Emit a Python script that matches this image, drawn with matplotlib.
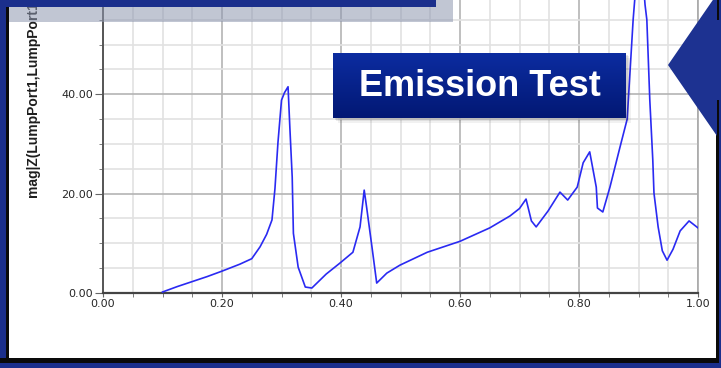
import matplotlib
matplotlib.use('Agg')
import matplotlib.pyplot as plt
import numpy as np
from matplotlib.patches import Rectangle, Polygon
from matplotlib.ticker import MultipleLocator, FormatStrFormatter

# ---- data ----
freq = [0.100, 0.125, 0.150, 0.175, 0.200, 0.230, 0.250, 0.264, 0.275, 0.284,
        0.289, 0.294, 0.300, 0.305, 0.311, 0.314, 0.318, 0.320, 0.328, 0.340,
        0.351, 0.375, 0.398, 0.420, 0.432, 0.439, 0.443, 0.452, 0.460, 0.477,
        0.499, 0.545, 0.600, 0.650, 0.684, 0.700, 0.711, 0.720, 0.728, 0.748,
        0.768, 0.781, 0.797, 0.807, 0.818, 0.829, 0.831, 0.840, 0.852, 0.869,
        0.881, 0.886, 0.891, 0.897, 0.902, 0.907, 0.911, 0.914, 0.919, 0.924,
        0.926, 0.933, 0.940, 0.948, 0.958, 0.970, 0.985, 1.000]
mag = [0.2, 1.3, 2.3, 3.3, 4.4, 5.8, 6.9, 9.3, 11.8, 14.7,
       21.0, 30.2, 38.8, 40.3, 41.5, 33.4, 23.3, 12.0, 5.2, 1.2,
       1.0, 3.8, 6.0, 8.2, 13.3, 20.7, 17.3, 9.3, 2.0, 4.0,
       5.6, 8.2, 10.4, 13.1, 15.5, 17.0, 18.9, 14.5, 13.3, 16.5,
       20.3, 18.7, 21.3, 26.2, 28.4, 21.3, 17.1, 16.3, 21.3, 29.4,
       35.0, 45.0, 55.0, 64.0, 67.0, 64.0, 58.0, 55.0, 38.8, 26.8,
       20.1, 13.3, 8.5, 6.6, 8.8, 12.5, 14.5, 13.1]
x_ticks = [0.0, 0.2, 0.4, 0.6, 0.8, 1.0]
y_ticks = [0, 20, 40]
y_label = "mag|Z(LumpPort1,LumpPort1)|"
badge = "Emission Test"

W, H = 721, 368
fig = plt.figure(figsize=(W / 100, H / 100), dpi=100)
fig.patch.set_facecolor('white')

# ---- chart axes ----
x0, x1, yb = 103, 698, 293
ax = fig.add_axes([x0 / W, (H - yb) / H, (x1 - x0) / W, yb / H])
ax.plot(freq, mag, color='#2a2af2', lw=1.2, zorder=3)
ax.set_xlim(0, 1)
ax.set_ylim(0, yb / 4.97)
ax.set_xticks(x_ticks)
ax.set_yticks(y_ticks)
ax.xaxis.set_minor_locator(MultipleLocator(0.05))
ax.yaxis.set_minor_locator(MultipleLocator(5))
ax.xaxis.set_major_formatter(FormatStrFormatter('%.2f'))
ax.yaxis.set_major_formatter(FormatStrFormatter('%.2f'))
ax.grid(which='major', color='#b4b4b4', lw=1.2)
ax.grid(which='minor', color='#e2e2e2', lw=1.2)
ax.set_axisbelow(True)
ax.spines['top'].set_visible(False)
ax.spines['left'].set_color('#555555')
ax.spines['bottom'].set_color('#444444')
ax.spines['left'].set_linewidth(1.4)
ax.spines['bottom'].set_linewidth(1.6)
ax.spines['right'].set_color('#a8a8a8')
ax.spines['right'].set_linewidth(1.2)
ax.tick_params(axis='both', which='both', labelsize=8, labelcolor='#262626',
               color='#666666', pad=1)
ax.tick_params(axis='y', which='major', length=6)
ax.tick_params(axis='y', which='minor', length=3)
ax.tick_params(axis='x', which='major', length=3)
ax.tick_params(axis='x', which='minor', length=3)

# ---- slide overlay in pixel coordinates ----
ov = fig.add_axes([0, 0, 1, 1], zorder=5)
ov.patch.set_alpha(0)
ov.axis('off')

navy = '#1b2f8c'
ov.text(33, 197, y_label, rotation=90, ha='center', va='bottom',
        fontsize=10, fontweight='bold', color='#1e1e1e',
        family=['Liberation Sans', 'DejaVu Sans'], zorder=1)

# frame
ov.add_patch(Rectangle((0, 0), 5.5, H, color=navy, lw=0, zorder=4))
ov.add_patch(Rectangle((5.5, 0), 3.5, 360, color='#0a0a0a', lw=0, zorder=4))
ov.add_patch(Rectangle((0, 358), W, 4.5, color='#0a0a0a', lw=0, zorder=4))
ov.add_patch(Rectangle((0, 362.5), W, 6, color=navy, lw=0, zorder=4))
ov.add_patch(Rectangle((716, 0), 2.5, 362, color='#0a0a0a', lw=0, zorder=4))
ov.add_patch(Rectangle((718.5, 0), 2.5, H, color=navy, lw=0, zorder=4))

# top title bar remnants
ov.add_patch(Rectangle((9, 0), 444, 22, color='#8e97b0', alpha=0.55, lw=0, zorder=5))
ov.add_patch(Rectangle((0, 0), 436, 7, color=navy, lw=0, zorder=6))

# arrow on the right
ov.add_patch(Polygon([(668, 65), (717, -6), (717, 20), (721, 20), (721, 100),
                      (717, 100), (717, 136)], closed=True, color='#1d3291',
                     lw=0, zorder=6))

# Emission Test badge
bl, br, bt, bbot = 333, 626, 53, 118
for k, a in enumerate([0.10, 0.08, 0.06]):
    o = 1.5 + 1.5 * k
    ov.add_patch(Rectangle((bl + o, bt + o), br - bl, bbot - bt, color='#202020',
                           alpha=a, lw=0, zorder=6))
top_c = np.array([0x0c, 0x2c, 0xa0]) / 255
bot_c = np.array([0x02, 0x18, 0x74]) / 255
t = np.linspace(0, 1, 64)[:, None, None]
grad = top_c * (1 - t) + bot_c * t
ov.imshow(grad, extent=(bl, br, bbot, bt), origin='upper', aspect='auto',
          zorder=7, interpolation='bilinear')
ov.text((bl + br) / 2, 87, badge, ha='center', va='center', color='white',
        fontsize=26, fontweight='bold', family=['Liberation Sans', 'DejaVu Sans'],
        zorder=8)

ov.set_xlim(0, W)
ov.set_ylim(H, 0)

fig.savefig('out.png', dpi=100, facecolor='white')
